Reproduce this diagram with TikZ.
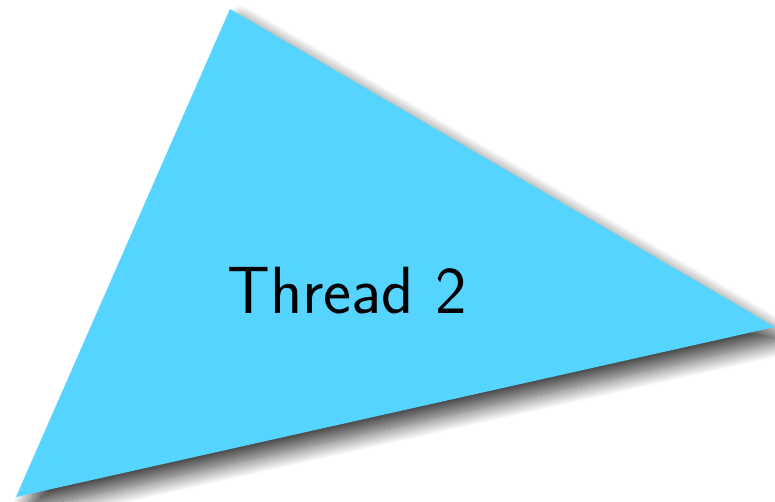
\documentclass[tikz,border=0pt]{standalone}
\usepackage{tikz}
\usepackage{xcolor}
\usetikzlibrary{shadows.blur}
\definecolor{threadblue}{HTML}{55D4FF}
\tikzset{
  threadshape/.style={fill=threadblue, draw=none,
    blur shadow={shadow xshift=6pt, shadow yshift=-7pt, shadow blur steps=20,
                 shadow blur radius=9pt, shadow opacity=75}},
  threadlabel/.style={font=\sffamily\fontsize{38}{44}\selectfont, inner sep=0pt},
}

\begin{document}
\begin{tikzpicture}[x=0.02cm, y=-0.02cm]
\useasboundingbox (0,0) rectangle (775,501);

% ===== thread triangle =====
\coordinate (top) at (230,9);
\coordinate (tip) at (775,327);
\coordinate (foot) at (16,497);
\path[threadshape] (top) -- (tip) -- (foot) -- cycle;

\node[threadlabel] (thr) at (347,291) {Thread 2};

\end{tikzpicture}
\end{document}
